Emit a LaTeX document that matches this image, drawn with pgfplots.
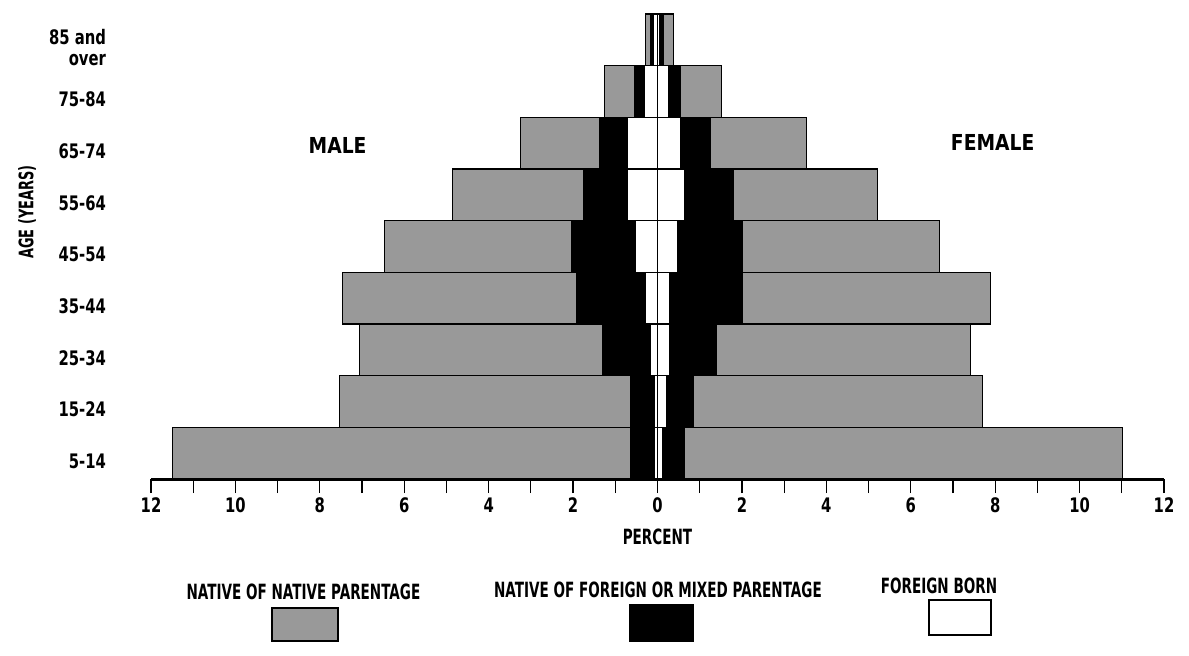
\documentclass[border=0pt]{standalone}
\usepackage{pgfplots}
\pgfplotsset{compat=1.18}
\usepackage{pgfplotstable}
\usepackage{fontspec}
\setmainfont{DejaVu Sans}[FakeStretch=0.74]
\newfontfamily\labfont{DejaVu Sans}[FakeStretch=0.85]
\newfontfamily\legfont{DejaVu Sans}[FakeStretch=0.645]

\pgfplotstableread{
y mgray mblack mwhite fwhite fblack fgray
0 -11.49 -0.64 -0.07 0.12 0.64 11.02
1 -7.54 -0.64 -0.07 0.21 0.85 7.70
2 -7.06 -1.30 -0.17 0.28 1.40 7.42
3 -7.46 -1.92 -0.29 0.28 2.01 7.89
4 -6.47 -2.04 -0.52 0.47 2.01 6.68
5 -4.86 -1.75 -0.71 0.65 1.80 5.21
6 -3.25 -1.36 -0.71 0.54 1.26 3.53
7 -1.26 -0.55 -0.31 0.26 0.55 1.52
8 -0.29 -0.17 -0.10 0.05 0.14 0.38
}\data

\definecolor{dotgray}{gray}{0.6}

\begin{document}
\begin{tikzpicture}
\path[use as bounding box] (0,0) rectangle (594.5pt,327.5pt);
\begin{axis}[
  at={(75.5pt,88pt)}, anchor=south west,
  scale only axis, width=506.5pt, height=232.5pt,
  xmin=-12, xmax=12, ymin=-0.5, ymax=8.5,
  enlargelimits=false, clip=false,
  axis x line*=bottom, axis y line*=left,
  separate axis lines,
  x axis line style={line width=1.5pt},
  y axis line style={draw=none},
  xtick={-12,-10,...,12},
  minor xtick={-11,-9,...,11},
  xticklabels={12,10,8,6,4,2,0,2,4,6,8,10,12},
  tick align=outside,
  major tick length=7pt, minor tick length=7pt,
  x tick style={line width=0.6pt, black},
  ytick={0,...,8},
  yticklabels={5-14,15-24,25-34,35-44,45-54,55-64,65-74,75-84,{85 and\\over}},
  major y tick style={draw=none},
  yticklabel style={font=\bfseries\fontsize{10}{10.5}\selectfont, align=right, xshift=-12pt, yshift=-4pt},
  xticklabel style={font=\bfseries\fontsize{10}{10.5}\selectfont, yshift=1pt},
  xlabel={PERCENT},
  xlabel style={font=\legfont\bfseries\fontsize{10.5}{11}\selectfont, at={(axis description cs:0.5,-0.125)}, anchor=center},
  ylabel={AGE (YEARS)},
  ylabel style={font=\legfont\bfseries\fontsize{10}{10.5}\selectfont, at={(axis description cs:-0.1224,0.574)}, anchor=center},
]
% outer: native of native parentage
\addplot[xbar, bar shift=0pt, bar width=1, fill=dotgray, draw=black, line width=0.7pt] table[x=mgray,y=y]{\data};
\addplot[xbar, bar shift=0pt, bar width=1, fill=dotgray, draw=black, line width=0.7pt] table[x=fgray,y=y]{\data};
% middle: native of foreign or mixed parentage
\addplot[xbar, bar shift=0pt, bar width=1, fill=black, draw=black, line width=0.7pt] table[x=mblack,y=y]{\data};
\addplot[xbar, bar shift=0pt, bar width=1, fill=black, draw=black, line width=0.7pt] table[x=fblack,y=y]{\data};
% inner: foreign born
\addplot[xbar, bar shift=0pt, bar width=1, fill=white, draw=black, line width=0.7pt] table[x=mwhite,y=y]{\data};
\addplot[xbar, bar shift=0pt, bar width=1, fill=white, draw=black, line width=0.7pt] table[x=fwhite,y=y]{\data};

\node[font=\labfont\bfseries\fontsize{11}{12}\selectfont] at (axis cs:-7.58,5.96) {MALE};
\node[font=\labfont\bfseries\fontsize{11}{12}\selectfont] at (axis cs:7.94,6.02) {FEMALE};
\end{axis}

% legend
\node[font=\legfont\bfseries\fontsize{10.5}{11}\selectfont] at (151.75pt,31.5pt) {NATIVE OF NATIVE PARENTAGE};
\draw[fill=dotgray, line width=0.7pt] (136pt,7pt) rectangle (169pt,23.5pt);
\node[font=\legfont\bfseries\fontsize{10.5}{11}\selectfont] at (329pt,32.5pt) {NATIVE OF FOREIGN OR MIXED PARENTAGE};
\draw[fill=black, line width=0.7pt] (315pt,7pt) rectangle (346.5pt,25pt);
\node[font=\legfont\bfseries\fontsize{10.5}{11}\selectfont] at (469.5pt,34.5pt) {FOREIGN BORN};
\draw[fill=white, line width=0.7pt] (464.5pt,10pt) rectangle (495.5pt,27.5pt);
\end{tikzpicture}
\end{document}
